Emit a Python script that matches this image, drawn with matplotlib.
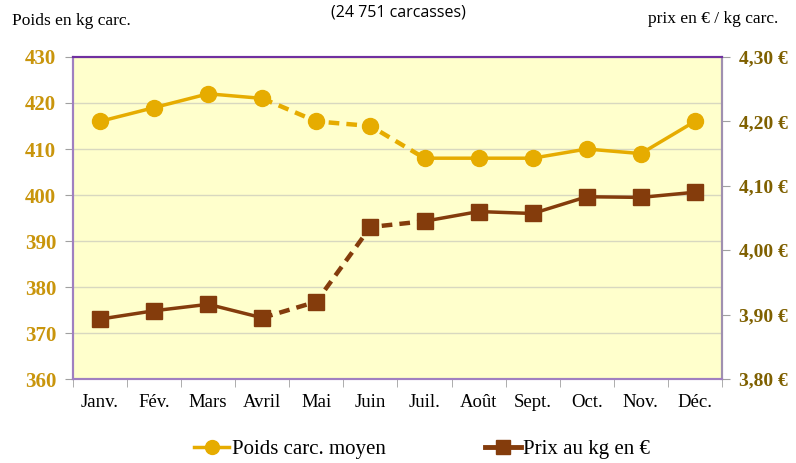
import numpy as np
import matplotlib.pyplot as plt
from matplotlib.lines import Line2D

mois = ['Janv.', 'Fév.', 'Mars', 'Avril', 'Mai', 'Juin', 'Juil.', 'Août', 'Sept.', 'Oct.', 'Nov.', 'Déc.']
poids = [416, 419, 422, 421, 416, 415, 408, 408, 408, 410, 409, 416]
prix = [3.893, 3.906, 3.916, 3.895, 3.920, 4.036, 4.045, 4.060, 4.057, 4.083, 4.082, 4.090]
poids_ticks = [360, 370, 380, 390, 400, 410, 420, 430]
prix_ticks = [3.80, 3.90, 4.00, 4.10, 4.20, 4.30]
prix_labels = ['3,80 €', '3,90 €', '4,00 €', '4,10 €', '4,20 €', '4,30 €']

c_poids = '#E6AC00'
c_prix = '#843C0C'
serif = 'Liberation Serif'

fig = plt.figure(figsize=(7.96, 4.63), dpi=100)
ax = fig.add_axes([0.0917, 0.1814, 0.8153, 0.6955])
ax.set_facecolor('#FFFFCC')
ax2 = ax.twinx()

x = np.arange(len(mois))

# segments : plein / pointillé (avril -> juillet) / plein
def trace(a, y, col, ms, marker):
    y = np.array(y)
    a.plot(x[:4], y[:4], color=col, lw=2.5, zorder=3)
    a.plot(x[3:7], y[3:7], color=col, lw=3.2, ls=(0, (2.4, 1.6)), zorder=3)
    a.plot(x[6:], y[6:], color=col, lw=2.5, zorder=3)
    a.plot(x, y, ls='none', marker=marker, ms=ms, color=col, zorder=4)

trace(ax, poids, c_poids, 11.5, 'o')
trace(ax2, prix, c_prix, 11, 's')

ax.set_xlim(-0.5, 11.5)
ax.set_ylim(360, 430)
ax2.set_ylim(3.80, 4.30)

ax.set_yticks(poids_ticks)
ax.set_yticklabels([str(v) for v in poids_ticks], fontfamily=serif, fontsize=15,
                   fontweight='bold', color='#C9950C')
ax.yaxis.grid(True, color='#D8D8C0', lw=1)
ax.set_axisbelow(True)

ax.set_xticks(x)
ax.set_xticklabels(mois, fontfamily=serif, fontsize=13.5)
ax.set_xticks(np.arange(-0.5, 12, 1), minor=True)
ax.tick_params(axis='x', which='major', length=0, pad=11)
ax.tick_params(axis='x', which='minor', length=6, color='#A0A0A0')
ax.tick_params(axis='y', length=6, color='#A0A0A0', pad=6)

ax2.set_yticks(prix_ticks)
ax2.set_yticklabels(prix_labels, fontfamily=serif, fontsize=14,
                    fontweight='bold', color='#7F6000')
ax2.tick_params(axis='y', length=6, color='#A0A0A0', pad=6)

for a in (ax, ax2):
    a.spines['top'].set_color('#7030A0')
    a.spines['left'].set_color('#A080C0')
    a.spines['bottom'].set_color('#A080C0')
    a.spines['right'].set_color('#A090B0')
    for s in a.spines.values():
        s.set_linewidth(1.5)

fig.text(0.015, 0.955, 'Poids en kg carc.', fontfamily=serif, fontsize=12.5, va='center')
fig.text(0.978, 0.958, 'prix en € / kg carc.', fontfamily=serif, fontsize=12.5, va='center', ha='right')
fig.text(0.5, 0.973, '(24 751 carcasses)', fontfamily='Open Sans', fontsize=11.5, va='center', ha='center')

handles = [Line2D([], [], color=c_poids, lw=2.5, marker='o', ms=10),
           Line2D([], [], color=c_prix, lw=3.5, marker='s', ms=10)]
fig.legend(handles, ['Poids carc. moyen', 'Prix au kg en €'], loc='center',
           bbox_to_anchor=(0.53, 0.03), ncol=2, frameon=False, handlelength=1.7,
           handletextpad=0.1, columnspacing=4.8,
           prop={'family': serif, 'size': 15})

fig.savefig('out.png', dpi=100)
